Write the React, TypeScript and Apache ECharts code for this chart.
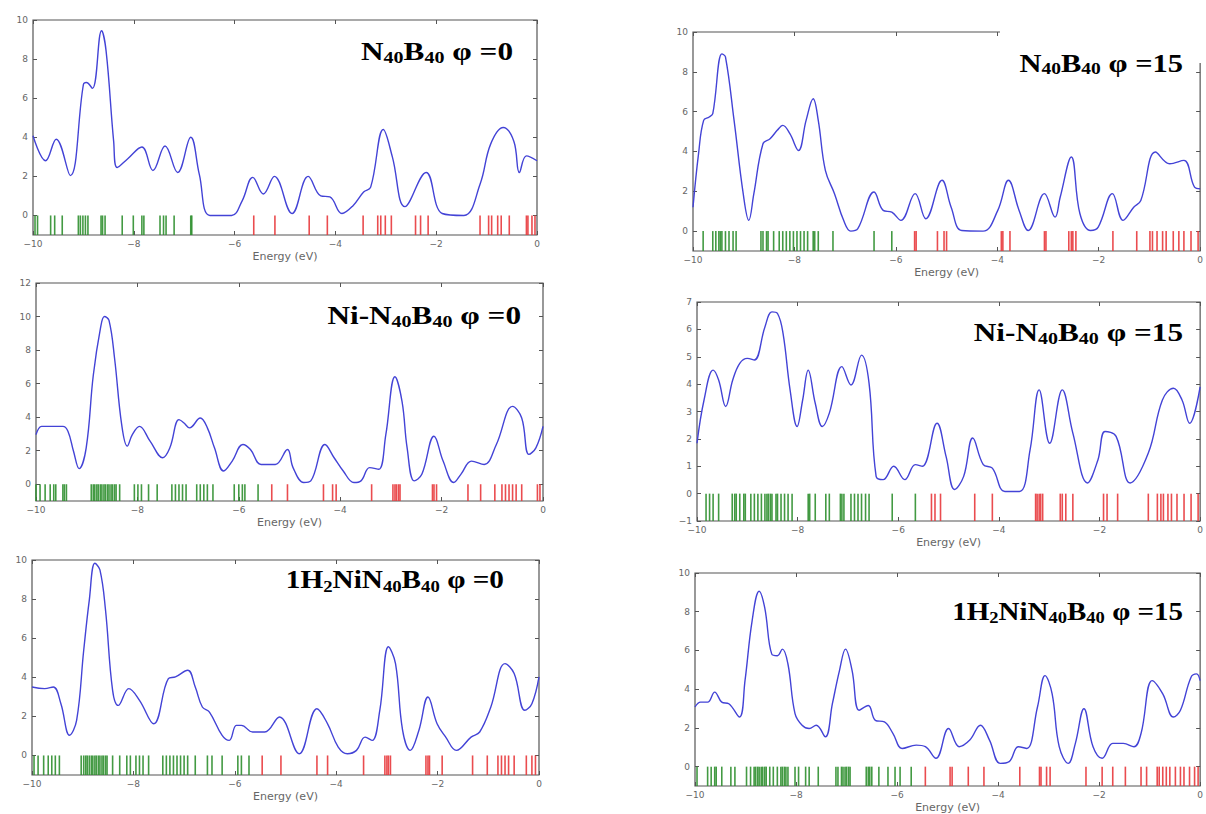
import React, { useEffect, useRef } from "react";
import * as echarts from "echarts";

// ---------- DATA ----------
const energyTicks = [-10, -8, -6, -4, -2, 0];

// Panel 1: N40B40 phi=0
const p1Energy = [-10,-9.75,-9.54,-9.26,-9.0,-8.94,-8.82,-8.64,-8.55,-8.4,-8.33,-8.12,-7.84,-7.62,-7.38,-7.13,-6.87,-6.7,-6.49,-6.06,-5.85,-5.64,-5.43,-5.21,-4.86,-4.54,-4.29,-4.11,-3.87,-3.65,-3.44,-3.3,-3.05,-2.87,-2.62,-2.2,-1.88,-1.45,-1.13,-0.92,-0.67,-0.46,-0.35,-0.21,0];
const p1Dos = [4.08,2.8,3.9,2.04,6.7,6.8,6.5,9.45,8.42,3.8,2.45,2.9,3.5,2.3,3.55,2.2,4.0,2.1,0,0,0.75,1.95,1.1,2.0,0.1,2.0,1.0,0.95,0.1,0.5,1.2,1.45,4.4,3.0,0.45,2.2,0.1,0,1.6,3.65,4.5,3.8,2.2,3.05,2.8];
const p1Occ = [-9.96,-9.91,-9.65,-9.57,-9.42,-9.1,-9.06,-9.01,-8.96,-8.91,-8.65,-8.62,-8.57,-8.23,-8.01,-7.84,-7.8,-7.48,-7.41,-7.36,-7.2,-6.87,-6.85];
const p1Unocc = [-5.62,-5.2,-4.52,-4.16,-3.45,-3.16,-3.1,-3.01,-2.89,-2.41,-2.31,-2.16,-1.13,-0.96,-0.9,-0.78,-0.71,-0.55,-0.21,-0.18,-0.1,-0.04];
const p1YTicks = [0, 2, 4, 6, 8, 10];

// Panel 2: N40B40 phi=15
const p2Energy = [-10,-9.89,-9.79,-9.68,-9.61,-9.43,-9.36,-9.19,-9.01,-8.9,-8.8,-8.62,-8.48,-8.34,-8.23,-8.09,-7.92,-7.77,-7.63,-7.53,-7.39,-7.21,-7.03,-6.89,-6.75,-6.43,-6.25,-6.08,-5.9,-5.62,-5.41,-5.09,-4.91,-4.7,-4.28,-3.99,-3.78,-3.57,-3.39,-3.07,-2.86,-2.76,-2.54,-2.37,-2.16,-2.01,-1.73,-1.52,-1.31,-1.17,-0.88,-0.6,-0.32,-0.11,0];
const p2Dos = [1.2,3.9,5.56,5.73,5.9,8.9,8.75,5.56,1.88,0.54,1.88,4.39,4.64,5.06,5.31,4.89,4.05,5.56,6.65,5.56,3.05,1.88,0.54,0,0.12,1.96,1.04,0.95,0.54,1.88,0.62,2.55,1.2,0.03,0,1.04,2.55,1.04,0.03,1.88,0.7,1.7,3.72,0.87,0.03,0.2,1.88,0.54,1.2,1.54,3.97,3.38,3.55,2.21,2.13];
const p2Occ = [-9.8,-9.61,-9.55,-9.49,-9.46,-9.43,-9.36,-9.29,-9.21,-9.15,-8.66,-8.62,-8.55,-8.52,-8.41,-8.3,-8.23,-8.16,-8.09,-8.02,-7.95,-7.88,-7.81,-7.74,-7.63,-7.6,-7.53,-7.24,-6.43,-6.08];
const p2Unocc = [-5.63,-5.6,-5.18,-5.05,-5.0,-3.92,-3.89,-3.75,-3.07,-3.04,-2.59,-2.54,-2.51,-2.45,-1.72,-1.25,-0.99,-0.94,-0.85,-0.74,-0.67,-0.53,-0.42,-0.32,-0.18,-0.04];
const p2YTicks = [0, 2, 4, 6, 8, 10];

// Panel 3: Ni-N40B40 phi=0
const p3Energy = [-10,-9.89,-9.75,-9.47,-9.37,-9.26,-9.15,-9.01,-8.87,-8.73,-8.65,-8.56,-8.45,-8.31,-8.2,-8.1,-7.96,-7.75,-7.5,-7.36,-7.18,-7.08,-6.97,-6.76,-6.62,-6.48,-6.3,-6.13,-5.92,-5.77,-5.56,-5.28,-5.04,-4.93,-4.72,-4.58,-4.3,-4.12,-3.94,-3.73,-3.59,-3.42,-3.24,-3.1,-2.92,-2.78,-2.68,-2.54,-2.39,-2.15,-1.97,-1.76,-1.62,-1.41,-1.16,-0.92,-0.6,-0.42,-0.28,-0.14,0];
const p3Dos = [2.96,3.45,3.45,3.45,3.16,1.97,0.93,2.17,6.5,9.28,10.0,9.77,7.5,3.55,2.27,2.96,3.45,2.57,1.58,2.17,3.85,3.65,3.36,3.95,3.36,2.17,0.79,1.38,2.37,2.07,1.18,1.18,2.07,0.99,0.1,0.2,2.37,1.58,0.79,0.1,0.2,0.99,0.89,2.96,6.41,4.93,2.17,0.2,0.59,2.86,1.38,0.1,0.59,1.38,1.18,2.37,4.64,3.95,1.78,2.17,3.45];
const p3Occ = [-10,-9.92,-9.82,-9.72,-9.65,-9.61,-9.47,-9.44,-9.4,-8.91,-8.87,-8.84,-8.8,-8.77,-8.73,-8.7,-8.66,-8.63,-8.59,-8.56,-8.52,-8.49,-8.45,-8.42,-8.35,-8.06,-7.99,-7.92,-7.78,-7.61,-7.32,-7.25,-7.18,-7.11,-7.04,-6.83,-6.76,-6.69,-6.62,-6.51,-6.09,-6.0,-5.93,-5.88,-5.62];
const p3Unocc = [-5.35,-5.04,-4.33,-4.15,-4.08,-3.38,-2.96,-2.92,-2.89,-2.85,-2.82,-2.18,-2.15,-2.1,-1.48,-1.23,-0.95,-0.81,-0.74,-0.67,-0.6,-0.53,-0.42,-0.11,-0.06];
const p3YTicks = [0, 2, 4, 6, 8, 10, 12];

// Panel 4: Ni-N40B40 phi=15
const p4Energy = [-10,-9.86,-9.68,-9.57,-9.43,-9.29,-9.15,-9.0,-8.86,-8.65,-8.51,-8.4,-8.29,-8.15,-8.01,-7.9,-7.79,-7.65,-7.51,-7.37,-7.12,-6.94,-6.73,-6.58,-6.44,-6.3,-6.09,-5.87,-5.66,-5.52,-5.23,-5.05,-4.88,-4.7,-4.52,-4.31,-4.13,-3.88,-3.59,-3.38,-3.2,-2.99,-2.74,-2.53,-2.24,-2.03,-1.89,-1.67,-1.39,-1.03,-0.75,-0.53,-0.36,-0.21,0];
const p4Dos = [1.84,3.42,4.51,4.15,3.18,4.15,4.76,4.94,4.88,6.09,6.64,6.58,5.85,3.79,2.45,3.42,4.51,3.3,2.45,2.94,4.64,3.97,5.06,4.03,0.63,0.51,1.0,0.51,1.06,1.0,2.57,1.36,0.15,0.63,2.03,1.06,0.93,0.08,0.08,1.6,3.79,1.84,3.79,2.21,0.39,1.24,2.27,2.09,0.39,1.48,3.42,3.85,3.42,2.57,3.9];
const p4Occ = [-9.82,-9.75,-9.68,-9.57,-9.3,-9.25,-9.22,-9.15,-9.07,-9.04,-8.93,-8.86,-8.79,-8.72,-8.65,-8.61,-8.58,-8.54,-8.51,-8.43,-8.4,-8.33,-8.26,-8.19,-8.11,-7.79,-7.76,-7.65,-7.44,-7.37,-7.15,-7.12,-7.08,-6.94,-6.87,-6.8,-6.73,-6.65,-6.58,-6.12,-5.66];
const p4Unocc = [-5.34,-5.27,-5.16,-4.48,-4.13,-3.27,-3.24,-3.2,-3.17,-3.13,-2.78,-2.74,-2.67,-2.53,-1.92,-1.85,-1.64,-1.03,-0.85,-0.78,-0.73,-0.64,-0.57,-0.46,-0.32,-0.18,-0.04];
const p4YTicks = [-1, 0, 1, 2, 3, 4, 5, 6, 7];

// Panel 5: 1H2NiN40B40 phi=0
const p5Energy = [-10,-9.75,-9.58,-9.43,-9.26,-9.12,-8.98,-8.87,-8.76,-8.66,-8.55,-8.41,-8.3,-8.09,-7.88,-7.6,-7.31,-7.17,-6.93,-6.78,-6.64,-6.5,-6.25,-6.11,-5.97,-5.87,-5.65,-5.41,-5.12,-4.73,-4.38,-4.17,-3.96,-3.78,-3.6,-3.43,-3.29,-3.14,-2.97,-2.83,-2.69,-2.54,-2.37,-2.19,-2.01,-1.84,-1.63,-1.34,-1.17,-0.95,-0.67,-0.49,-0.28,-0.14,0];
const p5Dos = [3.5,3.42,3.5,2.65,1.03,1.79,5.38,7.95,9.83,9.49,7.44,3.33,2.56,3.42,2.82,1.62,3.93,4.02,4.36,3.5,2.48,2.22,1.03,0.77,1.54,1.54,1.2,1.2,1.97,0.09,2.39,1.62,0.43,0.09,0.26,0.94,0.77,2.31,5.56,4.7,1.28,0.26,1.28,2.99,1.62,0.94,0.26,0.94,1.2,2.48,4.7,4.19,2.31,2.65,4.02];
const p5Occ = [-9.96,-9.88,-9.77,-9.68,-9.61,-9.54,-9.46,-9.03,-8.98,-8.94,-8.91,-8.87,-8.83,-8.8,-8.76,-8.73,-8.69,-8.66,-8.62,-8.59,-8.55,-8.52,-8.41,-8.27,-8.13,-8.06,-7.95,-7.88,-7.81,-7.7,-7.42,-7.35,-7.28,-7.21,-7.14,-7.07,-7.0,-6.93,-6.78,-6.54,-6.45,-6.25,-5.94,-5.87,-5.72];
const p5Unocc = [-5.46,-5.09,-4.38,-4.17,-3.46,-3.04,-3.0,-2.97,-2.93,-2.23,-2.19,-2.16,-1.91,-1.31,-1.02,-0.81,-0.74,-0.67,-0.6,-0.49,-0.25,-0.14,-0.07];
const p5YTicks = [0, 2, 4, 6, 8, 10];

// Panel 6: 1H2NiN40B40 phi=15
const p6Energy = [-10,-9.89,-9.75,-9.61,-9.47,-9.33,-9.12,-9.01,-8.87,-8.73,-8.62,-8.48,-8.37,-8.27,-8.16,-8.02,-7.88,-7.74,-7.6,-7.42,-7.28,-7.14,-7.02,-6.89,-6.75,-6.57,-6.43,-6.25,-6.08,-5.9,-5.62,-5.44,-5.23,-4.98,-4.77,-4.56,-4.35,-4.17,-3.96,-3.78,-3.6,-3.43,-3.22,-3.07,-2.93,-2.79,-2.61,-2.47,-2.3,-2.12,-1.94,-1.73,-1.52,-1.31,-1.17,-0.95,-0.74,-0.53,-0.39,-0.18,-0.07,0];
const p6Dos = [3.08,3.33,3.33,3.85,3.33,3.25,2.56,4.44,7.52,9.06,8.21,5.81,5.73,6.07,5.3,2.74,2.14,1.97,2.14,1.54,3.25,4.96,6.07,4.96,2.91,3.16,2.39,2.31,1.71,0.94,1.11,1.03,0.43,1.97,1.03,1.37,2.14,1.37,0.17,0.26,1.03,0.94,3.08,4.7,3.76,1.03,0.17,1.2,2.99,1.03,0.43,1.2,1.2,1.03,1.71,4.44,3.76,2.56,2.91,4.62,4.79,4.44];
const p6Occ = [-9.96,-9.75,-9.68,-9.61,-9.58,-9.47,-9.29,-9.21,-8.98,-8.9,-8.83,-8.8,-8.76,-8.73,-8.69,-8.66,-8.62,-8.59,-8.52,-8.45,-8.37,-8.3,-8.27,-8.23,-8.2,-8.16,-8.02,-7.95,-7.81,-7.74,-7.56,-7.21,-7.17,-7.1,-7.07,-7.03,-7.0,-6.96,-6.93,-6.61,-6.57,-6.54,-6.5,-6.36,-6.18,-6.04,-5.94,-5.72];
const p6Unocc = [-5.44,-4.95,-4.91,-4.59,-4.28,-3.57,-3.18,-3.15,-3.04,-2.97,-2.26,-1.94,-1.73,-1.48,-1.17,-1.06,-0.85,-0.81,-0.74,-0.67,-0.6,-0.49,-0.39,-0.32,-0.21,-0.11,-0.04];
const p6YTicks = [0, 2, 4, 6, 8, 10];

const titles = [
  "{b|N}{s|40}{b|B}{s|40}{b| φ =0}",
  "{b|N}{s|40}{b|B}{s|40}{b| φ =15}",
  "{b|Ni-N}{s|40}{b|B}{s|40}{b| φ =0}",
  "{b|Ni-N}{s|40}{b|B}{s|40}{b| φ =15}",
  "{b|1H}{s|2}{b|NiN}{s|40}{b|B}{s|40}{b| φ =0}",
  "{b|1H}{s|2}{b|NiN}{s|40}{b|B}{s|40}{b| φ =15}",
];

const panels = [
  { energy: p1Energy, dos: p1Dos, occ: p1Occ, unocc: p1Unocc, yMin: -1, yMax: 10, yTicks: p1YTicks },
  { energy: p2Energy, dos: p2Dos, occ: p2Occ, unocc: p2Unocc, yMin: -1, yMax: 10, yTicks: p2YTicks },
  { energy: p3Energy, dos: p3Dos, occ: p3Occ, unocc: p3Unocc, yMin: -1, yMax: 12, yTicks: p3YTicks },
  { energy: p4Energy, dos: p4Dos, occ: p4Occ, unocc: p4Unocc, yMin: -1, yMax: 7, yTicks: p4YTicks },
  { energy: p5Energy, dos: p5Dos, occ: p5Occ, unocc: p5Unocc, yMin: -1, yMax: 10, yTicks: p5YTicks },
  { energy: p6Energy, dos: p6Dos, occ: p6Occ, unocc: p6Unocc, yMin: -1, yMax: 10, yTicks: p6YTicks },
];

// ---------- LAYOUT ----------
const layouts = [
  { left: 33, top: 20, width: 504, height: 215, tx: 513, ty: 52, sx: 1.25 },
  { left: 693, top: 32, width: 512, height: 219, tx: 1183, ty: 63, sx: 1.22 },
  { left: 36, top: 283, width: 507, height: 218, tx: 521, ty: 316, sx: 1.25 },
  { left: 697, top: 302, width: 508, height: 219, tx: 1183, ty: 333, sx: 1.25 },
  { left: 32, top: 560, width: 507, height: 215, tx: 504, ty: 580, sx: 1.17 },
  { left: 695, top: 573, width: 510, height: 215, tx: 1183, ty: 612, sx: 1.16 },
];

const FRAME = "#555";
const LABEL = "#666";
const BLUE = "#4343d6";
const GREEN = "#2f8f2f";
const RED = "#e8393c";

const fmtMinus = (v: number) => (v < 0 ? "\u2212" + Math.abs(v) : String(v));

function stickRenderer(color: string) {
  return (params: any, api: any) => {
    const e = api.value(0);
    const a = api.coord([e, 0]);
    const b = api.coord([e, -1]);
    return {
      type: "line",
      shape: { x1: a[0], y1: a[1], x2: b[0], y2: b[1] },
      style: { stroke: color, lineWidth: 1.6, opacity: 0.9 },
    };
  };
}

const rich = {
  b: { fontFamily: "Liberation Serif", fontWeight: "bold", fontSize: 25, lineHeight: 28, fill: "#000", color: "#000" },
  s: { fontFamily: "Liberation Serif", fontWeight: "bold", fontSize: 16, lineHeight: 16, verticalAlign: "bottom", fill: "#000", color: "#000" },
};

export default function App() {
  const ref = useRef<HTMLDivElement>(null);
  useEffect(() => {
    const chart = echarts.init(ref.current!, null, { renderer: "svg" });
    const grid: any[] = [];
    const xAxis: any[] = [];
    const yAxis: any[] = [];
    const series: any[] = [];
    const tickStyle = { color: FRAME, width: 1 };
    panels.forEach((p, i) => {
      const l = layouts[i];
      grid.push({ left: l.left, top: l.top, width: l.width, height: l.height, show: true, borderColor: FRAME, borderWidth: 1.2, backgroundColor: "transparent" });
      xAxis.push({
        gridIndex: i, type: "value", min: -10, max: 0, interval: 2, position: "bottom",
        axisLine: { show: false, onZero: false }, splitLine: { show: false },
        axisTick: { inside: true, length: 4, lineStyle: tickStyle },
        axisLabel: { formatter: fmtMinus, fontSize: 9, color: LABEL, fontFamily: "DejaVu Sans", margin: 4, showMinLabel: true, showMaxLabel: true },
        name: "Energy (eV)", nameLocation: "middle", nameGap: 16,
        nameTextStyle: { fontSize: 11, color: LABEL, fontFamily: "DejaVu Sans" },
      });
      xAxis.push({
        gridIndex: i, type: "value", min: -10, max: 0, interval: 2, position: "top",
        axisLine: { show: false, onZero: false }, splitLine: { show: false }, axisLabel: { show: false },
        axisTick: { inside: true, length: 4, lineStyle: tickStyle },
      });
      yAxis.push({
        gridIndex: i, type: "value", min: p.yMin, max: p.yMax, interval: 1, position: "left",
        axisLine: { show: false, onZero: false }, splitLine: { show: false },
        axisTick: { inside: true, length: 4, customValues: p.yTicks, lineStyle: tickStyle },
        axisLabel: { customValues: p.yTicks, formatter: fmtMinus, fontSize: 9, color: LABEL, fontFamily: "DejaVu Sans", margin: 5 },
      });
      yAxis.push({
        gridIndex: i, type: "value", min: p.yMin, max: p.yMax, interval: 1, position: "right",
        axisLine: { show: false, onZero: false }, splitLine: { show: false }, axisLabel: { show: false },
        axisTick: { inside: true, length: 4, customValues: p.yTicks, lineStyle: tickStyle },
      });
      series.push({
        type: "line", xAxisIndex: 2 * i, yAxisIndex: 2 * i,
        data: p.energy.map((e, k) => [e, p.dos[k]]),
        smooth: 0.4, showSymbol: false, lineStyle: { color: BLUE, width: 1.4 }, z: 3,
      });
      series.push({
        type: "custom", xAxisIndex: 2 * i, yAxisIndex: 2 * i,
        data: p.occ.map((e) => [e, 0]), renderItem: stickRenderer(GREEN), z: 2,
      });
      series.push({
        type: "custom", xAxisIndex: 2 * i, yAxisIndex: 2 * i,
        data: p.unocc.map((e) => [e, 0]), renderItem: stickRenderer(RED), z: 2,
      });
    });
    const graphic: any[] = [
      { type: "rect", z: 50, shape: { x: 1000, y: 24, width: 206, height: 39 }, style: { fill: "#fff" } },
    ];
    titles.forEach((t, i) => {
      graphic.push({
        type: "text", z: 60, x: layouts[i].tx, y: layouts[i].ty, scaleX: layouts[i].sx,
        style: { text: t, rich, align: "right", textAlign: "right", verticalAlign: "middle", textVerticalAlign: "middle" },
      });
    });
    chart.setOption({
      animation: false,
      backgroundColor: "#fff",
      grid, xAxis, yAxis, series, graphic,
    });
    return () => chart.dispose();
  }, []);
  return <div ref={ref} style={{ position: "fixed", left: 0, top: 0, width: 1206, height: 814, background: "#fff" }} />;
}
